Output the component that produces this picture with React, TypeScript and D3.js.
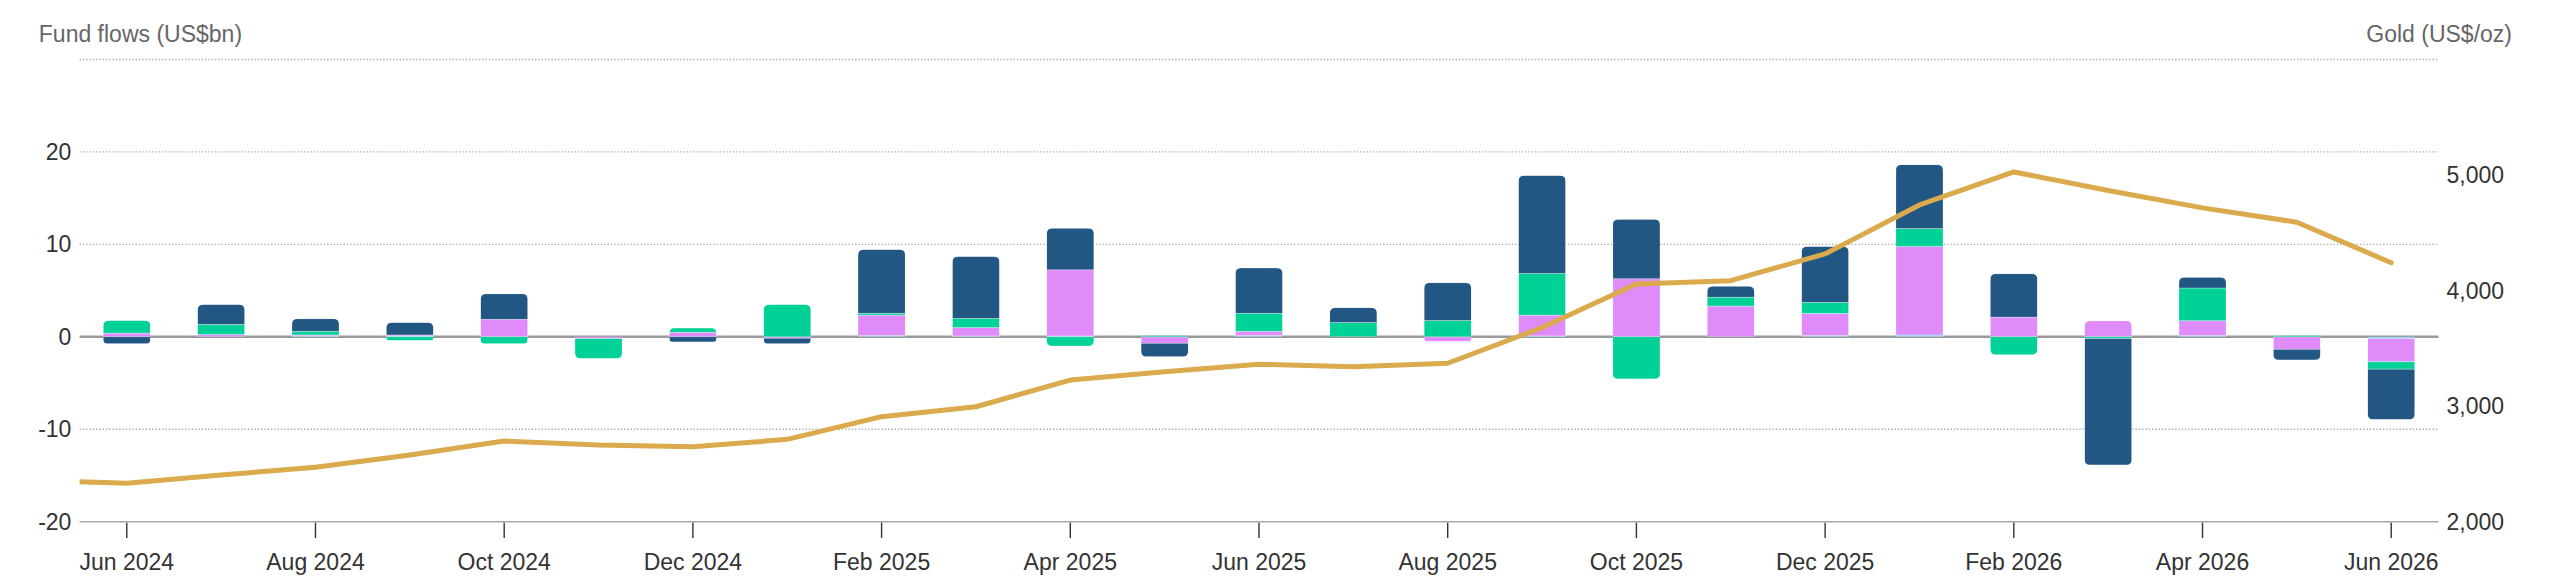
import React from "react";
import * as d3 from "d3";

// monthly fund flows by region (US$bn) and monthly average gold price (US$/oz)
const months = [
  "Jun 2024", "Jul 2024", "Aug 2024", "Sep 2024", "Oct 2024", "Nov 2024",
  "Dec 2024", "Jan 2025", "Feb 2025", "Mar 2025", "Apr 2025", "May 2025",
  "Jun 2025", "Jul 2025", "Aug 2025", "Sep 2025", "Oct 2025", "Nov 2025",
  "Dec 2025", "Jan 2026", "Feb 2026", "Mar 2026", "Apr 2026", "May 2026",
  "Jun 2026",
];

const other = [0, 0, 0.1, 0.1, 0, 0, 0, 0, 0.15, 0.1, 0.1, 0, 0.15, 0, 0, 0.1, 0, 0, 0.15, 0.2, 0, 0, 0.15, 0, -0.2];
const asia = [0.4, 0.25, 0.1, 0.1, 1.9, -0.2, 0.5, -0.15, 2.2, 0.9, 7.15, -0.7, 0.45, 0, -0.5, 2.25, 6.28, 3.32, 2.38, 9.57, 2.13, 1.73, 1.59, -1.35, -2.5];
const europe = [1.37, 1.1, 0.4, -0.4, -0.75, -2.15, 0.45, 3.5, 0.2, 1.0, -1.0, 0.15, 1.95, 1.55, 1.77, 4.5, -4.55, 0.97, 1.19, 1.95, -1.95, -0.2, 3.54, 0.15, -0.8];
const northAmerica = [-0.75, 2.15, 1.35, 1.35, 2.75, 0, -0.55, -0.6, 6.9, 6.7, 4.5, -1.45, 4.9, 1.6, 4.08, 10.6, 6.43, 1.19, 6.06, 6.9, 4.69, -13.66, 1.16, -1.15, -5.45];

// gold series starts one month earlier (May 2024), its first segment runs off the left edge
const goldPrice = [
  2360, 2332, 2404, 2471, 2577, 2698, 2664, 2649, 2713, 2909, 2995, 3226, 3298,
  3362, 3341, 3371, 3680, 4057, 4086, 4318, 4741, 5027, 4866, 4716, 4592, 4241,
];

const flowTicks = [-20, -10, 0, 10, 20, 30];
const goldTicks = [2000, 3000, 4000, 5000];

const keys = ["other", "asia", "europe", "northAmerica"];
const colors: Record<string, string> = {
  other: "#80cffc",
  asia: "#df8cfa",
  europe: "#00d196",
  northAmerica: "#225784",
};

const width = 2560;
const height = 579;
const left = 79.6;
const right = 2438.4;
const top = 59.5;
const bottom = 521.7;
const font = "'Liberation Sans', Arial, Helvetica, sans-serif";

function barOutline(x0: number, x1: number, yTop: number, yBot: number, rt: number, rb: number) {
  return (
    `M${x0},${yTop + rt} Q${x0},${yTop} ${x0 + rt},${yTop} L${x1 - rt},${yTop} ` +
    `Q${x1},${yTop} ${x1},${yTop + rt} L${x1},${yBot - rb} Q${x1},${yBot} ${x1 - rb},${yBot} ` +
    `L${x0 + rb},${yBot} Q${x0},${yBot} ${x0},${yBot - rb} Z`
  );
}

export default function App() {
  const x = d3.scaleBand<string>().domain(months).range([left, right]).paddingInner(0.5).paddingOuter(0.25);
  const xi = d3.scaleLinear().domain([-0.5, months.length - 0.5]).range([left, right]);
  const y = d3.scaleLinear().domain([-20, 30]).range([bottom, top]);
  const yGold = d3.scaleLinear().domain([2000, 6000]).range([bottom, top]);

  const rows = months.map((m, i) => ({
    month: m,
    other: other[i],
    asia: asia[i],
    europe: europe[i],
    northAmerica: northAmerica[i],
  }));
  const series = d3.stack<any>().keys(keys).offset(d3.stackOffsetDiverging)(rows);

  const line = d3
    .line<number>()
    .x((_, i) => xi(i - 1))
    .y((d) => yGold(d))
    .curve(d3.curveLinear);

  const bw = x.bandwidth();
  const r = 6;

  return (
    <svg width={width} height={height} style={{ position: "absolute", left: 0, top: 0 }} fontFamily={font}>
      <defs>
        <clipPath id="plot">
          <rect x={left} y={0} width={right - left} height={height} />
        </clipPath>
        {rows.map((row, i) => {
          const vals = keys.map((k) => (row as any)[k] as number);
          const pos = d3.sum(vals.filter((v) => v > 0));
          const neg = d3.sum(vals.filter((v) => v < 0));
          const yTop = y(pos);
          const yBot = y(neg);
          const rt = pos > 0 ? Math.min(r, (y(0) - yTop) / 1.5) : 0;
          const rb = neg < 0 ? Math.min(r, (yBot - y(0)) / 1.5) : 0;
          const x0 = x(row.month)!;
          return (
            <clipPath id={`bar-${i}`} key={i}>
              <path d={barOutline(x0, x0 + bw, yTop, yBot, rt, rb)} />
            </clipPath>
          );
        })}
      </defs>

      <text x={38.8} y={42} fontSize={23} fill="#666">Fund flows (US$bn)</text>
      <text x={2512} y={42} fontSize={23} fill="#666" textAnchor="end">Gold (US$/oz)</text>

      {flowTicks
        .filter((t) => t !== 0 && t !== -20)
        .map((t) => (
          <line key={t} x1={left} x2={right} y1={y(t)} y2={y(t)} stroke="#a9a9a9" strokeWidth={1.3} strokeDasharray="1.3,2" />
        ))}

      {flowTicks
        .filter((t) => t !== 30)
        .map((t) => (
          <text key={t} x={71.4} y={y(t)} dy="0.35em" fontSize={23} fill="#333" textAnchor="end">
            {t}
          </text>
        ))}

      {goldTicks.map((t) => (
        <text key={t} x={2446.5} y={yGold(t)} dy="0.35em" fontSize={23} fill="#333">
          {d3.format(",")(t)}
        </text>
      ))}

      <line x1={left} x2={right} y1={y(0)} y2={y(0)} stroke="#9a9a9a" strokeWidth={2.6} />

      {rows.map((row, i) => (
        <g key={row.month} clipPath={`url(#bar-${i})`}>
          {series.map((s) => {
            const d = s[i];
            const y0 = Math.min(y(d[0]), y(d[1]));
            const h = Math.abs(y(d[0]) - y(d[1]));
            if (h === 0) return null;
            return (
              <rect
                key={s.key}
                x={x(row.month)}
                y={y0}
                width={bw}
                height={h}
                fill={colors[s.key]}
                stroke="#ffffff"
                strokeOpacity={0.5}
                strokeWidth={0.6}
              />
            );
          })}
        </g>
      ))}

      <path
        d={line(goldPrice) || ""}
        fill="none"
        stroke="#daaa4c"
        strokeWidth={5}
        strokeLinejoin="round"
        strokeLinecap="round"
        clipPath="url(#plot)"
      />

      <line x1={left} x2={right} y1={bottom} y2={bottom} stroke="#a8a8a8" strokeWidth={1.6} />

      {months.map((m, i) =>
        i % 2 === 0 ? (
          <g key={m} transform={`translate(${x(m)! + bw / 2},0)`}>
            <line y1={bottom + 1} y2={538} stroke="#333" strokeWidth={1.4} />
            <text y={570} fontSize={23} fill="#333" textAnchor="middle">
              {m}
            </text>
          </g>
        ) : null
      )}
    </svg>
  );
}
